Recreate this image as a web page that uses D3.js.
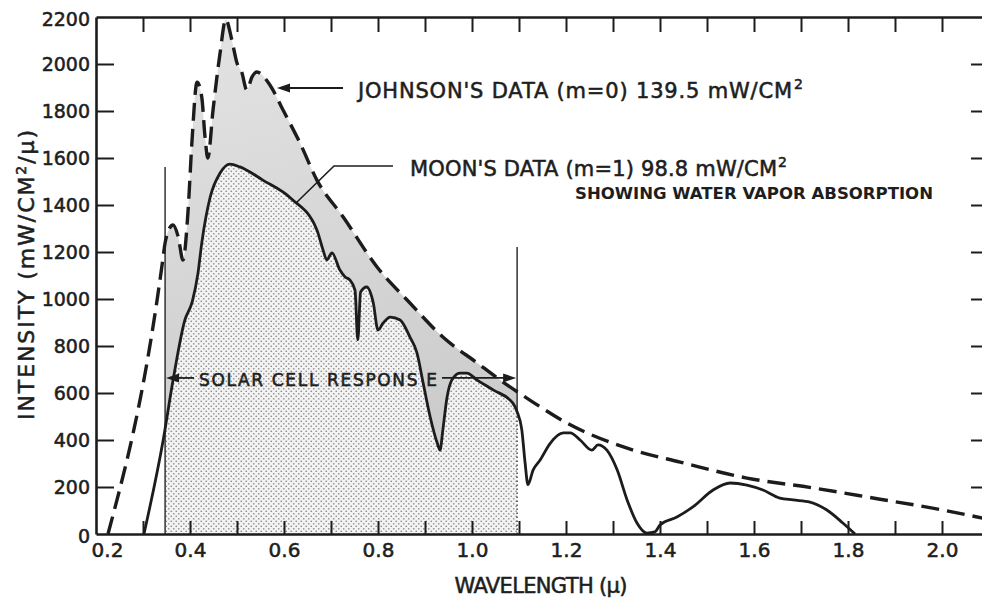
<!DOCTYPE html>
<html>
<head>
<meta charset="utf-8">
<script src="https://cdn.jsdelivr.net/npm/d3@7"></script>
<style>
  html,body{margin:0;padding:0;background:#fff;}
  svg{display:block;font-family:"DejaVu Sans",sans-serif;}
  .lbl{fill:#1e1e1e;stroke:#1e1e1e;stroke-width:0.55px;}
</style>
</head>
<body>
<svg id="chart" width="982" height="599"></svg>
<script>
// ---------- data ----------
// Johnson's data (m=0), extraterrestrial spectrum (dashed)
const johnsonWavelength = [0.2255,0.330,0.340,0.347,0.356,0.364,0.375,0.385,0.396,0.404,0.415,0.425,0.432,0.438,0.449,0.464,0.476,0.489,0.500,0.510,0.521,0.532,0.542,0.570,0.598,0.634,0.670,0.726,0.798,0.868,0.938,1.011,1.060,1.123,1.202,1.343,1.443,1.585,1.726,1.868,1.980,2.100];
const johnsonIntensity  = [0,996,1136,1238,1300,1315,1264,1166,1379,1664,1923,1860,1689,1600,1804,2047,2190,2102,2004,1966,1889,1945,1966,1911,1804,1664,1506,1349,1136,983,838,728,655,570,472,357,306,238,196,148,110,62];

// Moon's data (m=1), showing water vapour absorption (solid)
const moonWavelength = [0.302,0.343,0.364,0.389,0.405,0.417,0.425,0.443,0.464,0.485,0.506,0.555,0.615,0.670,0.683,0.691,0.702,0.719,0.730,0.740,0.751,0.757,0.763,0.776,0.790,0.800,0.811,0.826,0.847,0.868,0.883,0.896,0.911,0.926,0.932,0.938,0.947,0.957,0.974,0.989,1.011,1.045,1.087,1.096,1.106,1.113,1.119,1.130,1.145,1.166,1.194,1.209,1.230,1.255,1.268,1.287,1.309,1.330,1.351,1.372,1.389,1.400,1.436,1.470,1.513,1.549,1.585,1.619,1.655,1.683,1.719,1.755,1.789,1.815];
const moonIntensity  = [0,400,655,910,990,1110,1238,1434,1536,1574,1562,1506,1428,1294,1209,1166,1196,1123,1094,1081,1038,826,1030,1051,983,868,898,923,911,838,770,643,498,387,357,443,583,655,685,685,655,613,557,520,443,302,210,272,315,385,430,430,400,357,379,357,272,145,47,4,9,38,72,115,187,217,208,187,153,145,136,102,47,0];

// solar cell response band
const solarBand = [0.347, 1.096];
const solarMarkerTop = [1562, 1221];
const solarArrowLevel = 664;

// ticks
const xLabelTicks = [0.2,0.4,0.6,0.8,1.0,1.2,1.4,1.6,1.8,2.0];
const xMinorTicks = [0.3,0.4,0.5,0.6,0.7,0.8,0.9,1.0,1.1,1.2,1.3,1.4,1.5,1.6,1.7,1.8,1.9,2.0];
const yLabelTicks = [0,200,400,600,800,1000,1200,1400,1600,1800,2000,2200];
const yMarkTicks  = [200,400,600,800,1000,1200,1400,1600,1800,2000];

// ---------- drawing ----------
const svg = d3.select("#chart");
const ink = "#1c1c1c";
const x = d3.scaleLinear().domain([0.2, 2.1]).range([96, 989]);
const y = d3.scaleLinear().domain([0, 2200]).range([534, 17]);

const johnson = johnsonWavelength.map((w,i)=>({w, v: johnsonIntensity[i]}));
const moon = moonWavelength.map((w,i)=>({w, v: moonIntensity[i]}));

const defs = svg.append("defs");
const pat = defs.append("pattern").attr("id","dots").attr("patternUnits","userSpaceOnUse")
  .attr("width",5).attr("height",5);
pat.append("rect").attr("width",5).attr("height",5).attr("fill","#f3f3f3");
pat.append("circle").attr("cx",1.25).attr("cy",1.25).attr("r",0.85).attr("fill","#8e8e8e");
pat.append("circle").attr("cx",3.75).attr("cy",3.75).attr("r",0.85).attr("fill","#8e8e8e");

const grad = defs.append("linearGradient").attr("id","grayfill")
  .attr("x1","0").attr("y1","0").attr("x2","0.4").attr("y2","1");
grad.append("stop").attr("offset","0%").attr("stop-color","#e4e4e4");
grad.append("stop").attr("offset","100%").attr("stop-color","#c6c6c6");

defs.append("clipPath").attr("id","band").append("rect")
  .attr("x", x(solarBand[0])).attr("y", y(2200))
  .attr("width", x(solarBand[1]) - x(solarBand[0]))
  .attr("height", y(0) - y(2200));

const curve = d3.curveMonotoneX;
const areaGen = d3.area().x(d=>x(d.w)).y0(y(0)).y1(d=>y(d.v)).curve(curve);
const lineGen = d3.line().x(d=>x(d.w)).y(d=>y(d.v)).curve(curve);

// gray band between curves (Johnson area, then Moon dotted area on top)
svg.append("path").datum(johnson).attr("d", areaGen)
  .attr("fill","url(#grayfill)").attr("clip-path","url(#band)");
svg.append("path").datum(moon).attr("d", areaGen)
  .attr("fill","#fff").attr("clip-path","url(#band)");
svg.append("path").datum(moon).attr("d", areaGen)
  .attr("fill","url(#dots)").attr("clip-path","url(#band)");

// solar cell band edges
svg.append("line").attr("x1",x(solarBand[0])).attr("x2",x(solarBand[0]))
  .attr("y1",y(0)).attr("y2",y(solarMarkerTop[0])).attr("stroke","#333").attr("stroke-width",1.5);
const moonAtRight = moon.find(d=>d.w===solarBand[1]).v;
svg.append("line").attr("x1",x(solarBand[1])).attr("x2",x(solarBand[1]))
  .attr("y1",y(moonAtRight)).attr("y2",y(solarMarkerTop[1])).attr("stroke","#333").attr("stroke-width",1.5);
svg.append("line").attr("x1",x(solarBand[1])).attr("x2",x(solarBand[1]))
  .attr("y1",y(0)).attr("y2",y(moonAtRight)).attr("stroke","#555").attr("stroke-width",1.6)
  .attr("stroke-dasharray","1.5,2.5");

// curves
svg.append("path").datum(johnson).attr("d", lineGen).attr("fill","none")
  .attr("stroke",ink).attr("stroke-width",3.4).attr("stroke-dasharray","18,8");
svg.append("path").datum(moon).attr("d", lineGen).attr("fill","none")
  .attr("stroke",ink).attr("stroke-width",2.8).attr("stroke-linejoin","round");

// ---------- axes ----------
function styleAxis(g){
  g.selectAll(".domain").attr("stroke",ink).attr("stroke-width",2.6);
  g.selectAll(".tick line").attr("stroke",ink).attr("stroke-width",2);
}
svg.append("g").attr("transform",`translate(0,${y(0)})`)
  .call(d3.axisBottom(x).tickValues(xMinorTicks).tickSize(-13).tickSizeOuter(0).tickFormat(""))
  .call(styleAxis);
svg.append("g").attr("transform",`translate(0,${y(2200)})`)
  .call(d3.axisTop(x).tickValues(xMinorTicks).tickSize(-15).tickSizeOuter(0).tickFormat(""))
  .call(styleAxis);
svg.append("g").attr("transform",`translate(${x(0.2)},0)`)
  .call(d3.axisLeft(y).tickValues(yMarkTicks).tickSize(-18).tickSizeOuter(0).tickFormat(""))
  .call(styleAxis);
svg.append("g").attr("transform",`translate(${x(2.1)},0)`)
  .call(d3.axisRight(y).tickValues(yMarkTicks).tickSize(-18).tickSizeOuter(0).tickFormat(""))
  .call(styleAxis);

// tick labels
const xl = svg.append("g").attr("transform",`translate(0,${y(0)})`)
  .call(d3.axisBottom(x).tickValues(xLabelTicks).tickSize(0).tickPadding(9).tickFormat(d3.format(".1f")));
xl.select(".domain").remove();
xl.selectAll("text").attr("font-size",20).attr("class","lbl").attr("font-family","DejaVu Sans");
xl.selectAll(".tick").filter(d=>d===0.2).select("text").attr("dx",11);

const yl = svg.append("g").attr("transform",`translate(${x(0.2)},0)`)
  .call(d3.axisLeft(y).tickValues(yLabelTicks).tickSize(0).tickPadding(6).tickFormat(d3.format("d")));
yl.select(".domain").remove();
yl.selectAll("text").attr("font-size",19).attr("class","lbl").attr("font-family","DejaVu Sans");
yl.selectAll(".tick").filter(d=>d===0).select("text").attr("dy","0.45em");
yl.selectAll(".tick").filter(d=>d===2200).select("text").attr("dy","0.45em");

// axis titles
const yt = svg.append("text").attr("class","lbl").attr("transform","translate(34,275) rotate(-90)")
  .attr("text-anchor","middle").attr("font-size",22)
  .attr("textLength",290).attr("lengthAdjust","spacing");
yt.append("tspan").text("INTENSITY (mW/CM");
yt.append("tspan").attr("dy",-8).attr("font-size",14).text("2");
yt.append("tspan").attr("dy",8).text("/μ)");

svg.append("text").attr("class","lbl").attr("x",541).attr("y",593).attr("text-anchor","middle")
  .attr("font-size",21).attr("textLength",173).attr("lengthAdjust","spacing")
  .text("WAVELENGTH (μ)");

// ---------- annotations ----------
function arrowHead(tipX, tipY, dir){ // dir -1 = pointing left, +1 = right
  const L=13, h=4.5;
  svg.append("path").attr("d",`M${tipX},${tipY} L${tipX-dir*L},${tipY-h} L${tipX-dir*L},${tipY+h} Z`).attr("fill",ink);
}

// Johnson label + arrow
svg.append("text").attr("class","lbl").attr("x",358).attr("y",98).attr("font-size",21)
  .attr("textLength",434).attr("lengthAdjust","spacing").text("JOHNSON'S DATA (m=0) 139.5 mW/CM");
svg.append("text").attr("class","lbl").attr("x",794).attr("y",89).attr("font-size",14).text("2");
svg.append("line").attr("x1",286).attr("x2",343).attr("y1",88).attr("y2",88).attr("stroke",ink).attr("stroke-width",2);
arrowHead(277, 88, -1);

// Moon label + leader
svg.append("text").attr("class","lbl").attr("x",410).attr("y",176).attr("font-size",21)
  .attr("textLength",367).attr("lengthAdjust","spacing").text("MOON'S DATA (m=1) 98.8 mW/CM");
svg.append("text").attr("class","lbl").attr("x",778).attr("y",167).attr("font-size",14).text("2");
svg.append("polyline").attr("points","296,203 334,166 393,166").attr("fill","none")
  .attr("stroke",ink).attr("stroke-width",1.6);
svg.append("text").attr("x",575).attr("y",199).attr("font-size",16).attr("font-weight","bold").attr("fill","#1e1e1e")
  .attr("textLength",358).attr("lengthAdjust","spacingAndGlyphs").text("SHOWING WATER VAPOR ABSORPTION");

// Solar cell response arrow
const ay = y(solarArrowLevel);
svg.append("line").attr("x1",x(solarBand[0])+8).attr("x2",194).attr("y1",ay).attr("y2",ay)
  .attr("stroke",ink).attr("stroke-width",1.8);
svg.append("line").attr("x1",442).attr("x2",x(solarBand[1])-8).attr("y1",ay).attr("y2",ay)
  .attr("stroke",ink).attr("stroke-width",1.8);
arrowHead(x(solarBand[0])+1, ay, -1);
arrowHead(x(solarBand[1])-1, ay, 1);
svg.append("text").attr("class","lbl").attr("x",199).attr("y",386).attr("font-size",17)
  .attr("textLength",238).attr("lengthAdjust","spacing").text("SOLAR CELL RESPONS E");
</script>
</body>
</html>
